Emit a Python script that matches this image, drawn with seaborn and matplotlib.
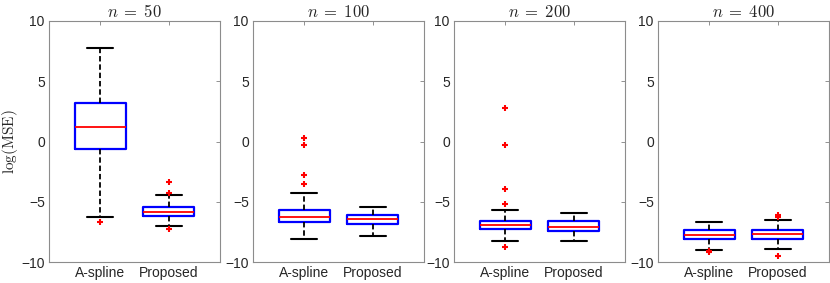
import matplotlib
matplotlib.use("Agg")
import matplotlib.pyplot as plt
import pandas as pd
import seaborn as sns

SAMPLE_SIZES = [50, 100, 200, 400]
METHODS = ["A-spline", "Proposed"]

# five-number summaries:
# lower whisker, q1, median, q3, upper whisker
ASPLINE_STATS = [
    [-6.24, -0.60, 1.18, 3.17, 7.79],
    [-8.07, -6.70, -6.27, -5.66, -4.25],
    [-8.23, -7.26, -6.95, -6.57, -5.71],
    [-9.00, -8.09, -7.76, -7.37, -6.70],
]
PROPOSED_STATS = [
    [-6.99, -6.18, -5.85, -5.44, -4.47],
    [-7.84, -6.85, -6.43, -6.10, -5.41],
    [-8.23, -7.40, -7.10, -6.62, -5.91],
    [-8.90, -8.07, -7.70, -7.37, -6.54],
]
ASPLINE_OUTLIERS = [
    [-6.65],
    [0.32, -0.27, -2.78, -3.50],
    [2.75, -0.32, -3.97, -5.21, -8.73],
    [-9.06, -9.20],
]
PROPOSED_OUTLIERS = [
    [-3.39, -4.25, -7.29],
    [],
    [],
    [-6.12, -6.29, -9.53],
]

AX_LEFTS = [49, 253, 454, 658]
AX_WIDTH = 171
FIG_W, FIG_H = 830, 283


def build_frames():
    box_rows, out_rows = [], []
    for i, n in enumerate(SAMPLE_SIZES):
        for method, stats, outs in [
            ("A-spline", ASPLINE_STATS[i], ASPLINE_OUTLIERS[i]),
            ("Proposed", PROPOSED_STATS[i], PROPOSED_OUTLIERS[i]),
        ]:
            box_rows += [{"n": n, "method": method, "value": v} for v in stats]
            out_rows += [{"n": n, "method": method, "value": v} for v in outs]
    return pd.DataFrame(box_rows), pd.DataFrame(out_rows, columns=["n", "method", "value"])


def main():
    sns.set_theme(style="white")
    plt.rcParams["font.family"] = ["Liberation Sans", "DejaVu Sans"]
    plt.rcParams["mathtext.fontset"] = "cm"

    box_df, out_df = build_frames()
    fig = plt.figure(figsize=(FIG_W / 100, FIG_H / 100), dpi=100)

    for i, n in enumerate(SAMPLE_SIZES):
        ax = fig.add_axes([AX_LEFTS[i] / FIG_W, (FIG_H - 262) / FIG_H,
                           AX_WIDTH / FIG_W, 241 / FIG_H])
        sns.boxplot(
            data=box_df[box_df["n"] == n], x="method", y="value", order=METHODS,
            whis=(0, 100), width=0.75, fill=False, showfliers=False, linewidth=1.5,
            boxprops={"color": "#0000ff", "linewidth": 1.6},
            medianprops={"color": "#ff0000", "linewidth": 1.3},
            whiskerprops={"color": "black", "linestyle": (0, (3, 1.6)), "linewidth": 1.3},
            capprops={"color": "black", "linewidth": 1.5},
            ax=ax,
        )
        outs = out_df[out_df["n"] == n]
        if len(outs):
            sns.stripplot(
                data=outs, x="method", y="value", order=METHODS, jitter=False,
                marker="+", color="#ff0000", size=5, linewidth=1.5, ax=ax,
            )
        ax.set_xlim(-0.75, 1.75)
        ax.set_ylim(-10, 10)
        ax.set_yticks([-10, -5, 0, 5, 10])
        ax.set_xlabel("")
        ax.set_ylabel("")
        ax.set_title(rf"$n\;=\;{n}$", fontsize=12, pad=3)
        ax.tick_params(direction="in", length=3, width=0.6, color="#808080",
                       labelsize=10, labelcolor="#262626", top=True, right=True,
                       pad=3)
        for spine in ax.spines.values():
            spine.set_visible(True)
            spine.set_color("#8c8c8c")
            spine.set_linewidth(0.8)
        if i == 0:
            ax.set_ylabel(r"$\mathrm{log(MSE)}$", fontsize=11, labelpad=1)

    fig.savefig("out.png", dpi=100)
    plt.close(fig)


if __name__ == "__main__":
    main()
